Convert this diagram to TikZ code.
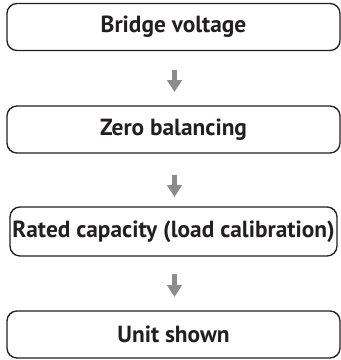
\documentclass[tikz,border=0pt]{standalone}
\usepackage{fontspec}
\setmainfont{PT Sans}
\usetikzlibrary{arrows.meta}
\definecolor{txt}{HTML}{231F20}
\definecolor{arr}{HTML}{8C8C8C}
\begin{document}
\begin{tikzpicture}[x=0.75pt,y=-0.75pt,
  box/.style={draw=txt, line width=1pt, rounded corners=7.5pt, minimum height=35.25pt,
    minimum width=249.75pt, inner sep=0pt, font=\bfseries\fontsize{17.5}{20}\selectfont, text=txt},
  flow/.style={draw=arr, line width=3.4pt, -{Triangle[width=10.9pt,length=9pt]}, arr}]
\useasboundingbox (0,0) rectangle (341,360);
\node[box] (b1) at (173.5,27) {Bridge voltage};
\node[box] (b2) at (173.5,129.5) {Zero balancing};
\node[box, minimum width=245.25pt, minimum height=36.75pt] (b3) at (173.5,231.5) {Rated capacity (load calibration)};
\node[box] (b4) at (173.5,334.5) {Unit shown};
\coordinate (a1s) at (174.5,70); \coordinate (a1e) at (174.5,92);
\coordinate (a2s) at (174.5,175); \coordinate (a2e) at (174.5,197);
\coordinate (a3s) at (174.5,274); \coordinate (a3e) at (174.5,297);
\draw[flow] (a1s) -- (a1e);
\draw[flow] (a2s) -- (a2e);
\draw[flow] (a3s) -- (a3e);
\end{tikzpicture}
\end{document}
